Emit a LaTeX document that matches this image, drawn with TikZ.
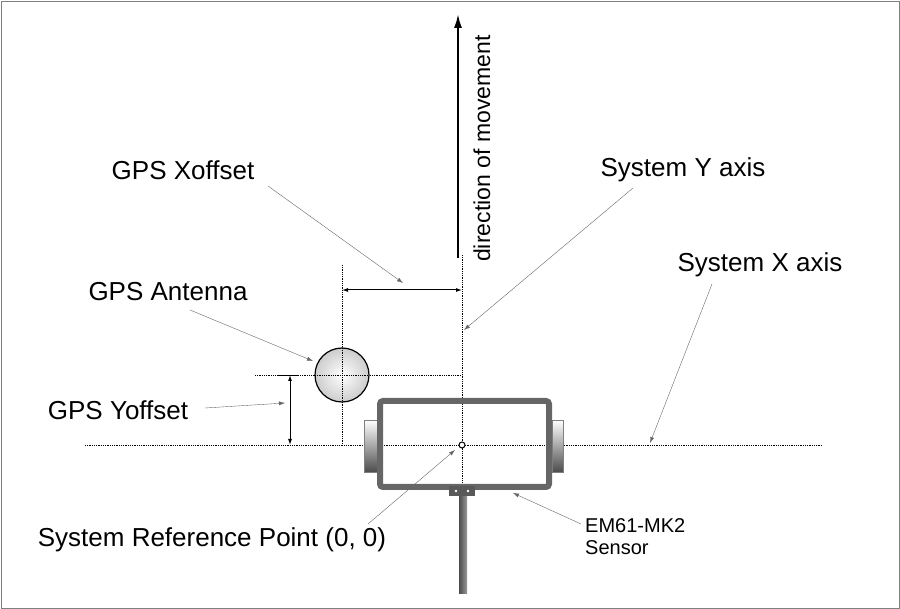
\documentclass[tikz,border=0pt]{standalone}
\usepackage{fontspec}
\setmainfont{Liberation Sans}
\usetikzlibrary{arrows.meta}
\begin{document}
\begin{tikzpicture}[x=1pt,y=-1pt,
  lbl/.style={font=\fontsize{26}{28}\selectfont,inner sep=0pt},
  dot/.style={densely dotted,line width=0.8pt},
  lead/.style={gray!80!black,line width=0.4pt,-{Latex[length=6pt,width=4pt]}},
  dim/.style={line width=1pt,{Latex[length=6pt,width=4pt]}-{Latex[length=6pt,width=4pt]}}]
\draw[gray,line width=0.8pt] (1,1) rectangle (899,608);
\useasboundingbox (0,0) rectangle (900,609);
% dotted axes
\draw[dot] (462,255) -- (462,595);
\draw[dot] (85,445) -- (822,445);
\draw[dot] (342,265) -- (342,445);
\draw[dot] (255,375) -- (462,375);
% wheels
\shade[top color=white,bottom color=black!70,draw=gray] (364,420) rectangle (377,472);
\shade[top color=white,bottom color=black!70,draw=gray] (552,420) rectangle (563,472);
% frame
\draw[line width=6pt,draw=black!60,rounded corners=3pt] (380,401) rectangle (549,487);
% bracket and pole
\shade[left color=black!70,right color=black!40] (459,495) rectangle (467,593);
\fill[black!65] (449,486) rectangle (475,496);
\fill[white] (456,491) circle (1.3) (468,491) circle (1.3);
% antenna
\shade[inner color=white,outer color=gray!40,draw=black,line width=1.2pt] (342,375) circle (27);
\draw[dot] (342,348) -- (342,402);
\draw[dot] (315,375) -- (369,375);
% reference point
\coordinate (ref) at (462,445);
\draw[line width=1pt,fill=white] (ref) circle (3);
% direction arrow
\draw[line width=2pt,-{Latex[length=14pt,width=8pt]}] (458,258) -- (458,14);
\node[lbl,rotate=90,anchor=west,font=\fontsize{23}{25}\selectfont] at (482,262) {direction of movement};
% dimensions
\coordinate (xa) at (342,290); \coordinate (xb) at (462,290);
\draw[dim] (xa) -- (xb);
\coordinate (ya) at (290,375); \coordinate (yb) at (290,445);
\draw[dim] (ya) -- (yb);
\draw[line width=0.8pt] (278,375) -- (298,375);
% labels
\node[lbl] (xo) at (183,170) {GPS Xoffset};
\node[lbl] (sy) at (683,170) {System Y axis};
\node[lbl] (sx) at (760,265) {System X axis};
\node[lbl] (ga) at (168,292) {GPS Antenna};
\node[lbl] (yo) at (118,410) {GPS Yoffset};
\node[lbl] (rp) at (212,540) {System Reference Point (0, 0)};
\node[font=\fontsize{20}{22}\selectfont,align=left,inner sep=0pt,anchor=west] (em) at (585,537) {EM61-MK2\\Sensor};
% leaders
\coordinate (t1) at (403,283); \draw[lead] (268,186) -- (t1);
\coordinate (t2) at (464,330); \draw[lead] (633,188) -- (t2);
\coordinate (t3) at (650,443); \draw[lead] (712,284) -- (t3);
\coordinate (t4) at (313,361); \draw[lead] (190,310) -- (t4);
\coordinate (t5) at (285,403); \draw[lead] (205,408) -- (t5);
\coordinate (t6) at (455,450); \draw[lead] (368,524) -- (t6);
\coordinate (t7) at (513,493); \draw[lead] (581,524) -- (t7);
\end{tikzpicture}
\end{document}
